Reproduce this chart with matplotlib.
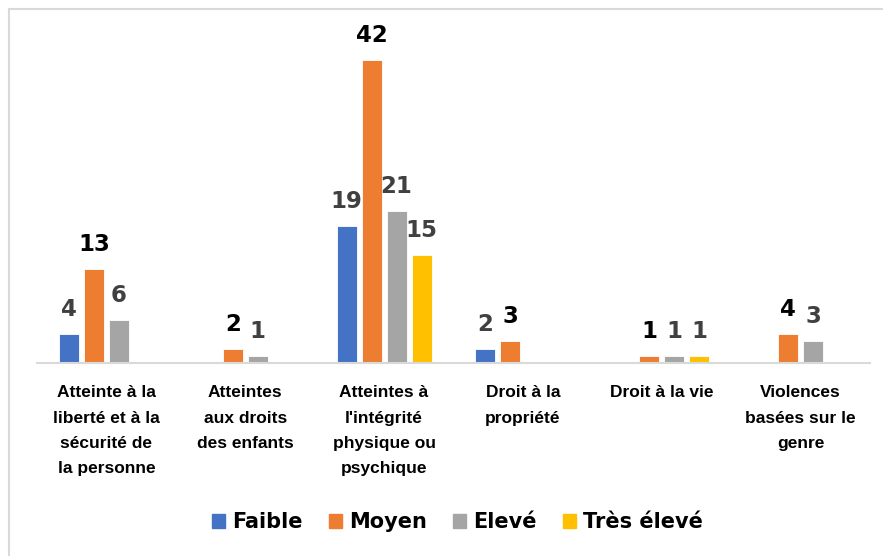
import numpy as np
import matplotlib.pyplot as plt
from matplotlib.patches import Rectangle

plt.rcParams['font.family'] = ['Liberation Sans', 'DejaVu Sans']
plt.rcParams['font.weight'] = 'bold'

categories = ["Atteinte à la\nliberté et à la\nsécurité de\nla personne",
              "Atteintes\naux droits\ndes enfants",
              "Atteintes à\nl'intégrité\nphysique ou\npsychique",
              "Droit à la\npropriété",
              "Droit à la vie",
              "Violences\nbasées sur le\ngenre"]
series = ["Faible", "Moyen", "Elevé", "Très élevé"]
faible = [4, 0, 19, 2, 0, 0]
moyen = [13, 2, 42, 3, 1, 4]
eleve = [6, 1, 21, 0, 1, 3]
tres_eleve = [0, 0, 15, 0, 1, 0]

colors = ['#4472C4', '#ED7D31', '#A5A5A5', '#FFC000']
label_colors = ['#404040', '#000000', '#404040', '#404040']
heavy = 'DejaVu Sans'

fig = plt.figure(figsize=(8.83, 5.56), dpi=100)
ax = fig.add_axes([37/883, (556-363)/556, 833/883, 342.7/556])

x = np.arange(len(categories))
width = 0.144
step = 0.18
handles = []
for i, (name, vals) in enumerate(zip(series, [faible, moyen, eleve, tres_eleve])):
    pos = x + (i - 1.5) * step
    ax.bar(pos, vals, width, color=colors[i], edgecolor='white', linewidth=0.6)
    handles.append(Rectangle((0, 0), 1, 1, color=colors[i]))
    for p, v in zip(pos, vals):
        if v > 0:
            ax.annotate(str(v), (p, v), xytext=(0, 13), textcoords='offset points',
                        ha='center', va='baseline', fontsize=16.5, fontweight='bold',
                        family=heavy, color=label_colors[i])

ax.set_xlim(-0.5, len(categories) - 0.5)
ax.set_ylim(0, 47.5)
ax.set_xticks(x)
ax.set_xticklabels(categories, fontsize=12.5, fontweight='bold', linespacing=1.86)
ax.tick_params(axis='x', length=0, pad=16)
ax.set_yticks([])
for s in ['top', 'right', 'left']:
    ax.spines[s].set_visible(False)
ax.spines['bottom'].set_color('#d9d9d9')
ax.spines['bottom'].set_linewidth(1.5)

fig.legend(handles, series, loc='center', bbox_to_anchor=(0.518, 0.061), ncol=4,
           frameon=False, prop={'size': 15, 'weight': 'bold', 'family': heavy},
           handlelength=0.65, handleheight=0.65, handletextpad=0.33, columnspacing=1.25)

fig.add_artist(Rectangle((9/883, -0.1), 1.0, 1.1 - 9/556, transform=fig.transFigure,
                         fill=False, edgecolor='#d9d9d9', linewidth=1.5))

fig.savefig('out.png', dpi=100, facecolor='white')
